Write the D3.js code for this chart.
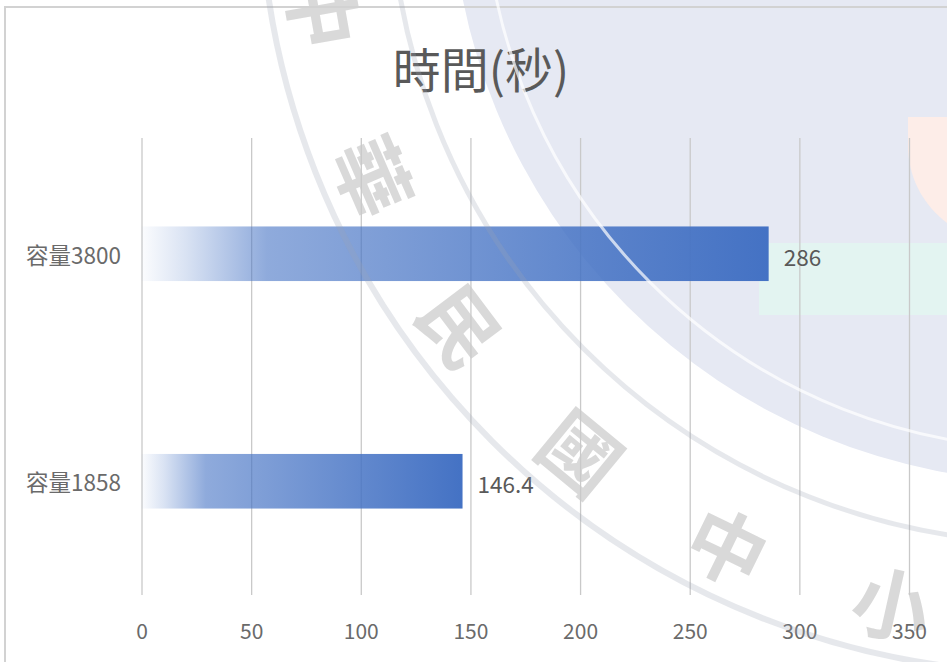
<!DOCTYPE html>
<html>
<head>
<meta charset="utf-8">
<script src="https://cdn.jsdelivr.net/npm/d3@7/dist/d3.min.js"></script>
<style>
  html, body { margin: 0; padding: 0; background: #ffffff; }
  svg { display: block; }
  text { font-family: "Noto Sans CJK TC", "Noto Sans CJK SC", "Noto Sans", sans-serif; }
</style>
</head>
<body>
<svg id="chart" width="947" height="662"></svg>
<script>
// Chart data
const chartTitle = "時間(秒)";
const categories = ["容量3800", "容量1858"];
const values = [286, 146.4];
const valueLabels = ["286", "146.4"];
const tickValues = [0, 50, 100, 150, 200, 250, 300, 350];

// Seal stamp in the background
const sealChars = ["中", "華", "民", "國", "中", "小"];
const sealAngles = [170, 156.5, 143, 129.5, 116, 102.5];

const W = 947, H = 662;
const plot = { left: 141.5, right: 909, top: 138, bottom: 595 };

const svg = d3.select("#chart");

const x = d3.scaleLinear().domain([0, 350]).range([plot.left, plot.right]);
const y = d3.scaleBand().domain(categories)
  .range([140, plot.bottom]).paddingInner(0.76).paddingOuter(0.38);

// --- background layer of the stamp ---
const cx = 1052, cy = -119;
const bg = svg.append("g");
bg.append("circle").attr("cx", cx).attr("cy", cy).attr("r", 601).attr("fill", "#e6e9f3");
bg.append("path")
  .attr("d", "M908,117 L947,117 L947,223 C925,206 910,182 908,150 Z")
  .attr("fill", "#fdede8");
bg.append("rect").attr("x", 759).attr("y", 243).attr("width", W - 759).attr("height", 72)
  .attr("fill", "#e3f4f1");

const R = 737;
bg.selectAll("text.seal").data(sealChars).join("text")
  .attr("class", "seal")
  .attr("transform", (d, i) => {
    const a = sealAngles[i] * Math.PI / 180;
    const px = cx + R * Math.cos(a), py = cy + R * Math.sin(a);
    return `translate(${px},${py}) rotate(${sealAngles[i] - 90})`;
  })
  .attr("text-anchor", "middle").attr("dominant-baseline", "central")
  .attr("font-size", 78).attr("font-weight", 700)
  .attr("fill", "#8c8c8c").attr("fill-opacity", 0.33)
  .text(d => d);

// chart frame (top and left edges visible)
svg.append("path")
  .attr("d", `M5,${H} L5,7 L${W},7`)
  .attr("fill", "none").attr("stroke", "#d2d2d2").attr("stroke-width", 2);

// Title
svg.append("text")
  .attr("x", 481).attr("y", 67)
  .attr("text-anchor", "middle").attr("dominant-baseline", "central")
  .attr("font-size", 48).attr("fill", "#595959")
  .text(chartTitle);

// Gridlines + tick labels from the axis generator
const axis = d3.axisBottom(x).tickValues(tickValues).tickSize(-(plot.bottom - plot.top)).tickFormat(d3.format("d"));
const gx = svg.append("g").attr("transform", `translate(0,${plot.bottom})`).call(axis);
gx.select(".domain").remove();
gx.selectAll(".tick line").attr("stroke", "#c9c9c9").attr("stroke-width", 1.3);
gx.selectAll(".tick text")
  .attr("y", 37).attr("dy", "0.35em")
  .attr("font-size", 21).attr("fill", "#6a6a6a")
  .style("font-family", "'Noto Sans CJK TC', sans-serif");

// Bar gradient (fades in from the left)
const defs = svg.append("defs");
const grad = defs.append("linearGradient").attr("id", "barGrad")
  .attr("x1", "0%").attr("x2", "100%").attr("y1", "0%").attr("y2", "0%");
[[0, 0.02], [0.07, 0.2], [0.2, 0.6], [1, 1]].forEach(([o, a]) => {
  grad.append("stop").attr("offset", o).attr("stop-color", "#4472c4").attr("stop-opacity", a);
});

const data = categories.map((c, i) => ({ cat: c, value: values[i], label: valueLabels[i] }));

svg.append("g").selectAll("rect").data(data).join("rect")
  .attr("x", x(0))
  .attr("y", d => y(d.cat))
  .attr("width", d => x(d.value) - x(0))
  .attr("height", y.bandwidth())
  .attr("fill", "url(#barGrad)");

// Value labels
svg.append("g").selectAll("text").data(data).join("text")
  .attr("x", d => x(d.value) + 15)
  .attr("y", d => y(d.cat) + y.bandwidth() / 2 + 2)
  .attr("dominant-baseline", "central")
  .attr("font-size", 22.5).attr("fill", "#595959")
  .text(d => d.label);

// Category labels
svg.append("g").selectAll("text").data(categories).join("text")
  .attr("x", 121)
  .attr("y", d => y(d) + y.bandwidth() / 2)
  .attr("text-anchor", "end").attr("dominant-baseline", "central")
  .attr("font-size", 22.5).attr("fill", "#6a6a6a")
  .text(d => d);

// --- stamp rings, laid over the chart ---
const fg = svg.append("g").style("pointer-events", "none");
fg.append("circle").attr("cx", cx).attr("cy", cy).attr("r", 568)
  .attr("fill", "none").attr("stroke", "#ffffff").attr("stroke-width", 3).attr("stroke-opacity", 0.7);
fg.append("circle").attr("cx", cx).attr("cy", cy).attr("r", 662)
  .attr("fill", "none").attr("stroke", "#9da3b5").attr("stroke-width", 5).attr("stroke-opacity", 0.25);
fg.append("circle").attr("cx", cx).attr("cy", cy).attr("r", 792)
  .attr("fill", "none").attr("stroke", "#9da3b5").attr("stroke-width", 6).attr("stroke-opacity", 0.25);
</script>
</body>
</html>
